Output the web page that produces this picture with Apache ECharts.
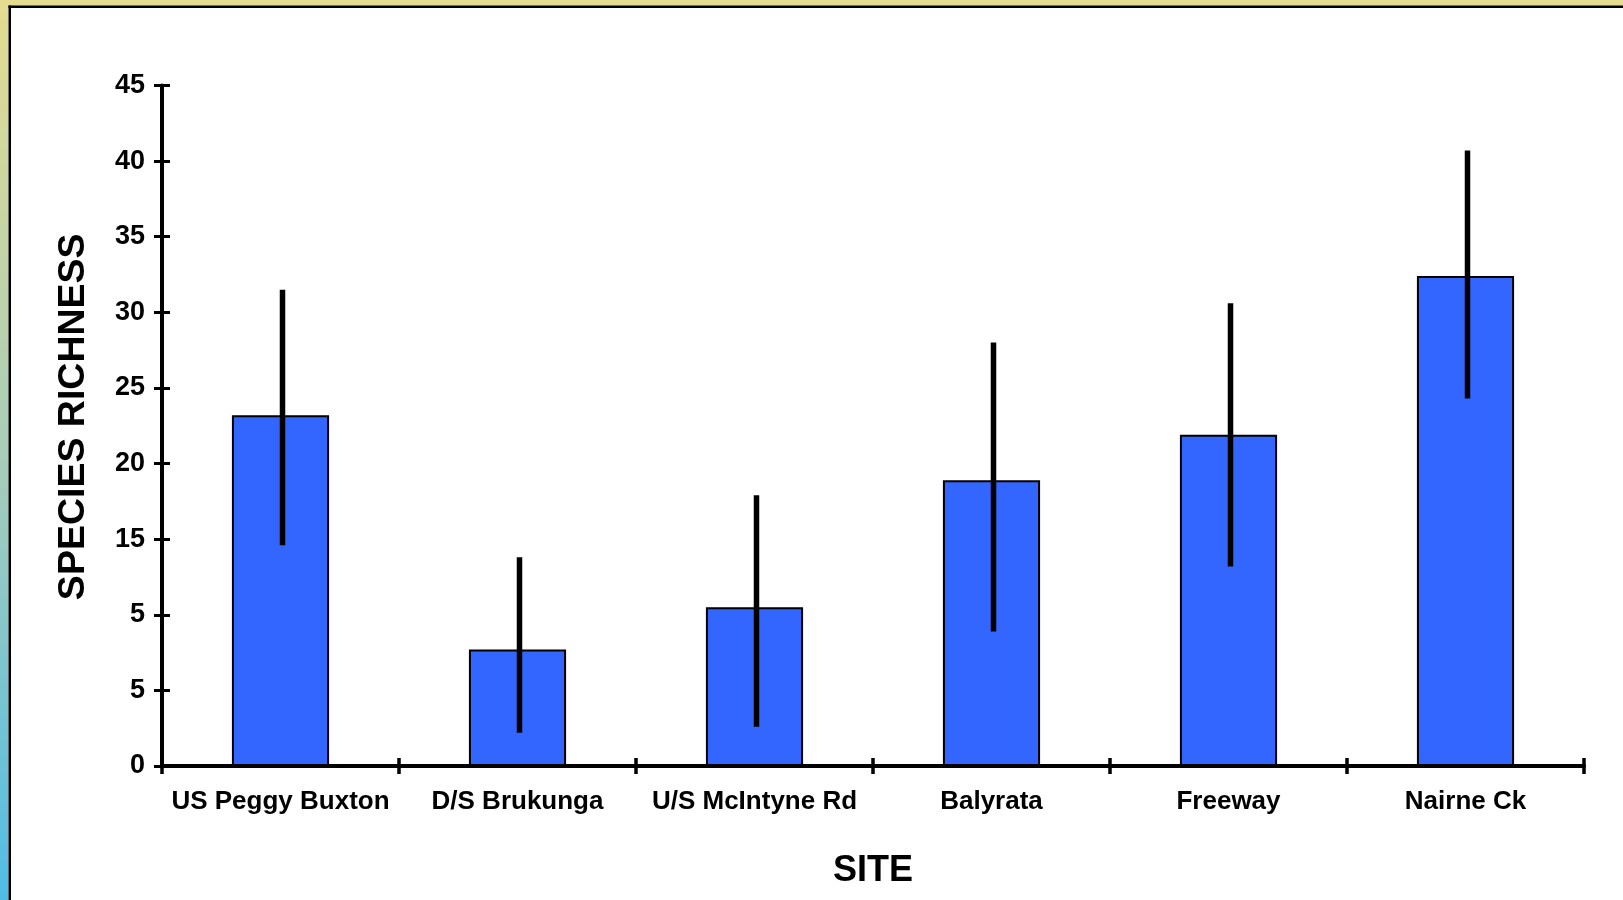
<!DOCTYPE html>
<html>
<head>
<meta charset="utf-8">
<script src="https://cdn.jsdelivr.net/npm/echarts@6/dist/echarts.min.js"></script>
<style>
html,body{margin:0;padding:0;background:#fff;}
#chart{width:1623px;height:900px;}
</style>
</head>
<body>
<div id="chart"></div>
<script>
// ---- data ----
const categories = ['US Peggy Buxton', 'D/S Brukunga', 'U/S McIntyne Rd', 'Balyrata', 'Freeway', 'Nairne Ck'];
const richness   = [23.2, 7.7, 10.5, 18.9, 21.9, 32.4];
const errHigh    = [31.5, 13.8, 17.9, 28.0, 30.6, 40.7];
const errLow     = [14.6, 2.2, 2.6, 8.9, 13.2, 24.3];
const yTickLabels = ['0', '5', '5', '15', '20', '25', '30', '35', '40', '45'];

const narrow = '"Liberation Sans Narrow", "Arial Narrow", "Liberation Sans", sans-serif';
const wide = '"Liberation Sans", Arial, sans-serif';

const chart = echarts.init(document.getElementById('chart'));
const errData = categories.map((c, i) => [i, errLow[i], errHigh[i]]);

chart.setOption({
  animation: false,
  backgroundColor: '#ffffff',
  grid: { left: 162, right: 39, top: 85.5, bottom: 134 },
  graphic: [
    { type: 'rect', shape: { x: 0, y: 0, width: 1623, height: 6 }, style: { fill: '#E4DC90' }, z: 100 },
    { type: 'rect', shape: { x: 0, y: 0, width: 8.5, height: 900 },
      style: { fill: new echarts.graphic.LinearGradient(0, 0, 0, 1, [
        { offset: 0, color: '#E4DC90' }, { offset: 0.5, color: '#A9CDB8' }, { offset: 1, color: '#50BCE6' }]) }, z: 100 },
    { type: 'rect', shape: { x: 8.5, y: 5.5, width: 1615, height: 2.5 }, style: { fill: '#000' }, z: 101 },
    { type: 'rect', shape: { x: 8.5, y: 5.5, width: 2.5, height: 895 }, style: { fill: '#000' }, z: 101 }
  ],
  xAxis: [{
    type: 'category',
    data: categories,
    boundaryGap: true,
    axisLine: { lineStyle: { color: '#000', width: 4 } },
    axisTick: { show: true, inside: false, length: 8, lineStyle: { color: '#000', width: 3.5 } },
    axisLabel: { color: '#000', fontFamily: narrow, fontWeight: 'bold', fontSize: 26, margin: 23, interval: 0 },
    name: 'SITE',
    nameLocation: 'middle',
    nameGap: 87,
    nameTextStyle: { color: '#000', fontFamily: wide, fontWeight: 'bold', fontSize: 36 }
  }, {
    type: 'category',
    data: categories,
    position: 'bottom',
    boundaryGap: true,
    axisLine: { show: false },
    axisTick: { show: true, inside: true, length: 8, lineStyle: { color: '#000', width: 3.5 } },
    axisLabel: { show: false }
  }],
  yAxis: [{
    type: 'value',
    min: 0, max: 45, interval: 5,
    splitLine: { show: false },
    axisLine: { show: true, lineStyle: { color: '#000', width: 4 } },
    axisTick: { show: true, inside: false, length: 8, lineStyle: { color: '#000', width: 3 } },
    axisLabel: {
      color: '#000', fontFamily: narrow, fontWeight: 'bold', fontSize: 27, margin: 17,
      formatter: (v) => yTickLabels[Math.round(v / 5)]
    },
    name: 'SPECIES RICHNESS',
    nameLocation: 'middle',
    nameRotate: 90,
    nameGap: 69,
    nameTextStyle: { color: '#000', fontFamily: wide, fontWeight: 'bold', fontSize: 37.5, padding: [0, 0, 0, 18] }
  }, {
    type: 'value',
    min: 0, max: 45, interval: 5,
    position: 'left',
    splitLine: { show: false },
    axisLine: { show: false },
    axisTick: { show: true, inside: true, length: 8, lineStyle: { color: '#000', width: 3 } },
    axisLabel: { show: false }
  }],
  series: [{
    type: 'bar',
    data: richness,
    barWidth: '41%',
    itemStyle: { color: '#3366FF', borderColor: '#000', borderWidth: 2 },
    z: 2
  }, {
    type: 'custom',
    data: errData,
    z: 5,
    renderItem: (params, api) => {
      const x = api.value(0);
      const lo = api.coord([x, api.value(1)]);
      const hi = api.coord([x, api.value(2)]);
      return {
        type: 'line',
        shape: { x1: lo[0] + 2, y1: lo[1], x2: hi[0] + 2, y2: hi[1] },
        style: { stroke: '#000', lineWidth: 5.5 }
      };
    }
  }]
});
</script>
</body>
</html>
